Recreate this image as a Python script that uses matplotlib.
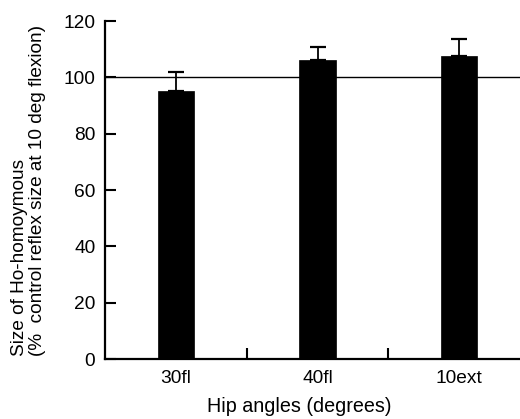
import matplotlib
matplotlib.use("Agg")
import matplotlib.pyplot as plt

categories = ["30fl", "40fl", "10ext"]
values = [95.0, 106.2, 107.5]
errors = [6.9, 4.6, 6.2]
yticks = [0, 20, 40, 60, 80, 100, 120]
ref_value = 100

plt.rcParams['font.family'] = ['Liberation Sans', 'DejaVu Sans']

W, H = 520, 419
fig = plt.figure(figsize=(W / 100, H / 100), dpi=100)
ax = fig.add_axes([105 / W, 60 / H, 425 / W, 338 / H])

x = [i + 0.5 for i in range(len(categories))]
ax.bar(x, values, width=0.255, color="black", edgecolor="black", linewidth=0.5, zorder=3)
ax.errorbar(x, values, yerr=[[0] * len(errors), errors], fmt="none", ecolor="black",
            elinewidth=1.3, capsize=6, capthick=1.6, zorder=2)
ax.axhline(ref_value, color="black", linewidth=1.0, zorder=1)

ax.set_xlim(0, len(categories))
ax.set_ylim(0, 120)
ax.set_yticks(yticks)
ax.set_xticks(x)
ax.set_xticklabels(categories)
ax.set_xticks([1, 2], minor=True)
ax.tick_params(axis="x", which="major", length=0, pad=8, labelsize=13.8)
ax.tick_params(axis="x", which="minor", direction="in", length=8, width=1.5)
ax.tick_params(axis="y", direction="in", length=8, width=1.5, pad=7, labelsize=13.8)
for s in ["top", "right"]:
    ax.spines[s].set_visible(False)
for s in ["left", "bottom"]:
    ax.spines[s].set_linewidth(1.6)

fig.text(299 / W, 1 - 412 / H, "Hip angles (degrees)", ha="center", va="baseline", fontsize=14.2)
fig.text(11 / W, 1 - 356 / H, "Size of Ho-homoymous\n(%  control reflex size at 10 deg flexion)",
         rotation=90, ha="left", va="bottom", multialignment="left", fontsize=13.7, linespacing=1.08)

fig.savefig("out.png", dpi=100)
